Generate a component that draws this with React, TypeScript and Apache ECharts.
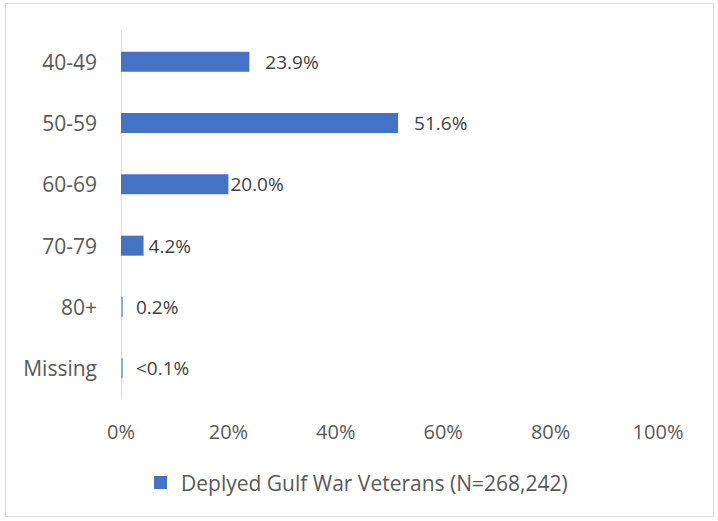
import React, { useEffect, useRef } from "react";
import * as echarts from "echarts";

const categories = ["40-49", "50-59", "60-69", "70-79", "80+", "Missing"];
const values = [23.9, 51.6, 20.0, 4.2, 0.2, 0.05];
const valueLabels = ["23.9%", "51.6%", "20.0%", "4.2%", "0.2%", "<0.1%"];
const labelGaps = [16, 16, 2, 5, 13, 13];
const xTicks = [0, 20, 40, 60, 80, 100];
const seriesName = "Deplyed Gulf War Veterans (N=268,242)";

const FONT = "'Open Sans', 'Noto Sans', sans-serif";
const TXT = "#595959";

export default function App() {
  const ref = useRef<HTMLDivElement>(null);
  useEffect(() => {
    document.body.style.margin = "0";
    const chart = echarts.init(ref.current!, null, { renderer: "svg" });
    const small = (v: number) => v < 1;
    chart.setOption({
      animation: false,
      backgroundColor: "#ffffff",
      textStyle: { fontFamily: FONT },
      graphic: [
        {
          type: "rect",
          shape: { x: 5.5, y: 3.5, width: 708, height: 513 },
          style: { fill: "none", stroke: "#d9d9d9", lineWidth: 1 },
          silent: true,
        },
      ],
      grid: { left: 121, right: 60, top: 31, bottom: 122, containLabel: false },
      legend: {
        data: [seriesName],
        left: 154,
        top: 472,
        padding: 0,
        itemWidth: 13,
        itemHeight: 13,
        itemGap: 10,
        icon: "rect",
        textStyle: { color: TXT, fontSize: 21, fontFamily: FONT, padding: [0, 0, 0, 9] },
      },
      xAxis: {
        type: "value",
        min: 0,
        max: 100,
        interval: 20,
        axisLine: { show: false },
        axisTick: { show: false },
        splitLine: { show: false },
        axisLabel: {
          color: TXT,
          fontSize: 20,
          fontFamily: FONT,
          margin: 22,
          formatter: (v: number) => (xTicks.includes(v) ? v + "%" : ""),
        },
      },
      yAxis: {
        type: "category",
        data: categories,
        inverse: true,
        axisLine: { show: true, lineStyle: { color: "#d9d9d9", width: 1 } },
        axisTick: { show: false },
        axisLabel: { color: TXT, fontSize: 21, fontFamily: FONT, margin: 24 },
      },
      series: [
        {
          name: seriesName,
          type: "bar",
          barWidth: 20,
          barMinHeight: 2,
          itemStyle: { color: "#4472c4" },
          data: values.map((v, i) => ({
            value: v,
            itemStyle: { color: small(v) ? "#8faadc" : "#4472c4" },
            label: {
              show: true,
              position: "right",
              distance: labelGaps[i],
              formatter: valueLabels[i],
              color: "#404040",
              fontSize: 19,
              fontFamily: FONT,
            },
          })),
        },
      ],
    });
    return () => chart.dispose();
  }, []);
  return <div ref={ref} style={{ width: 718, height: 521 }} />;
}
